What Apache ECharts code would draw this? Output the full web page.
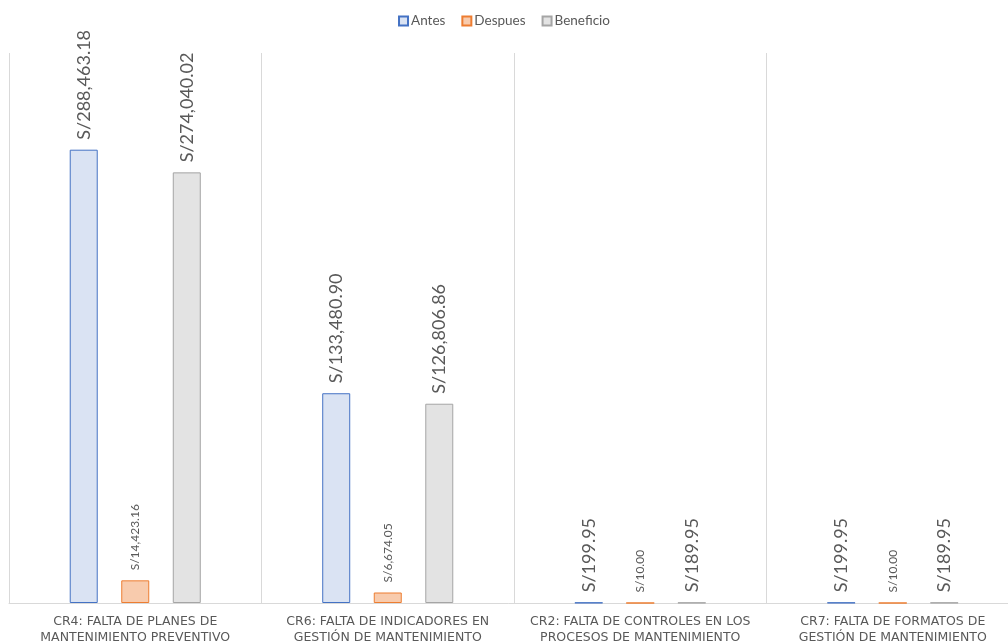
<!DOCTYPE html>
<html>
<head>
<meta charset="utf-8">
<script src="https://cdn.jsdelivr.net/npm/echarts@6/dist/echarts.min.js"></script>
<style>html,body{margin:0;padding:0;background:#fff;}#c{width:1008px;height:644px;}</style>
</head>
<body>
<div id="c"></div>
<script>
const categories = [
  "CR4: FALTA DE PLANES DE\nMANTENIMIENTO PREVENTIVO",
  "CR6: FALTA DE INDICADORES EN\nGESTIÓN DE MANTENIMIENTO",
  "CR2: FALTA DE CONTROLES EN LOS\nPROCESOS DE MANTENIMIENTO",
  "CR7: FALTA DE FORMATOS DE\nGESTIÓN DE MANTENIMIENTO"
];
const antes = [288463.18, 133480.90, 199.95, 199.95];
const despues = [14423.16, 6674.05, 10.00, 10.00];
const beneficio = [274040.02, 126806.86, 189.95, 189.95];

function fmt(v) {
  return 'S/' + Number(v).toLocaleString('en-US', {minimumFractionDigits: 2, maximumFractionDigits: 2});
}
const FONT = 'Lato';
function lbl(size) {
  return {
    show: true, position: 'top', rotate: 90, align: 'left', verticalAlign: 'middle',
    distance: 10, color: '#595959', fontSize: size, fontFamily: FONT,
    formatter: p => fmt(p.value)
  };
}
const chart = echarts.init(document.getElementById('c'), null, {renderer: 'canvas'});
chart.setOption({
  animation: false,
  legend: {
    top: 9, left: 'center', icon: 'rect', itemWidth: 9, itemHeight: 9, itemGap: 16,
    textStyle: {color: '#595959', fontSize: 13.5, fontFamily: FONT, padding: [0, 0, 0, -2]},
    data: ['Antes', 'Despues', 'Beneficio']
  },
  grid: {left: 9, width: 1010, top: 53, bottom: 41, containLabel: false, outerBoundsMode: 'none'},
  xAxis: {
    type: 'category', data: categories,
    axisLine: {show: true, lineStyle: {color: '#d9d9d9', width: 1}},
    axisTick: {show: false},
    splitLine: {show: true, interval: 0, lineStyle: {color: '#d9d9d9', width: 1}},
    axisLabel: {interval: 0, margin: 11, color: '#595959', fontSize: 12.5,
      fontFamily: "'DejaVu Sans', sans-serif", lineHeight: 16}
  },
  yAxis: {
    type: 'value', min: 0, max: 350000, show: false,
    splitLine: {show: false}
  },
  series: [
    {name: 'Antes', type: 'bar', data: antes, barWidth: 28, barGap: '84%',
     itemStyle: {color: '#dae3f3', borderColor: '#4472c4', borderWidth: 1}, label: lbl(18)},
    {name: 'Despues', type: 'bar', data: despues, barWidth: 28, barGap: '84%',
     itemStyle: {color: '#f8cbad', borderColor: '#ed7d31', borderWidth: 1}, label: lbl(12)},
    {name: 'Beneficio', type: 'bar', data: beneficio, barWidth: 28, barGap: '84%',
     itemStyle: {color: '#e3e3e3', borderColor: '#a5a5a5', borderWidth: 1}, label: lbl(18)}
  ]
});
</script>
</body>
</html>
